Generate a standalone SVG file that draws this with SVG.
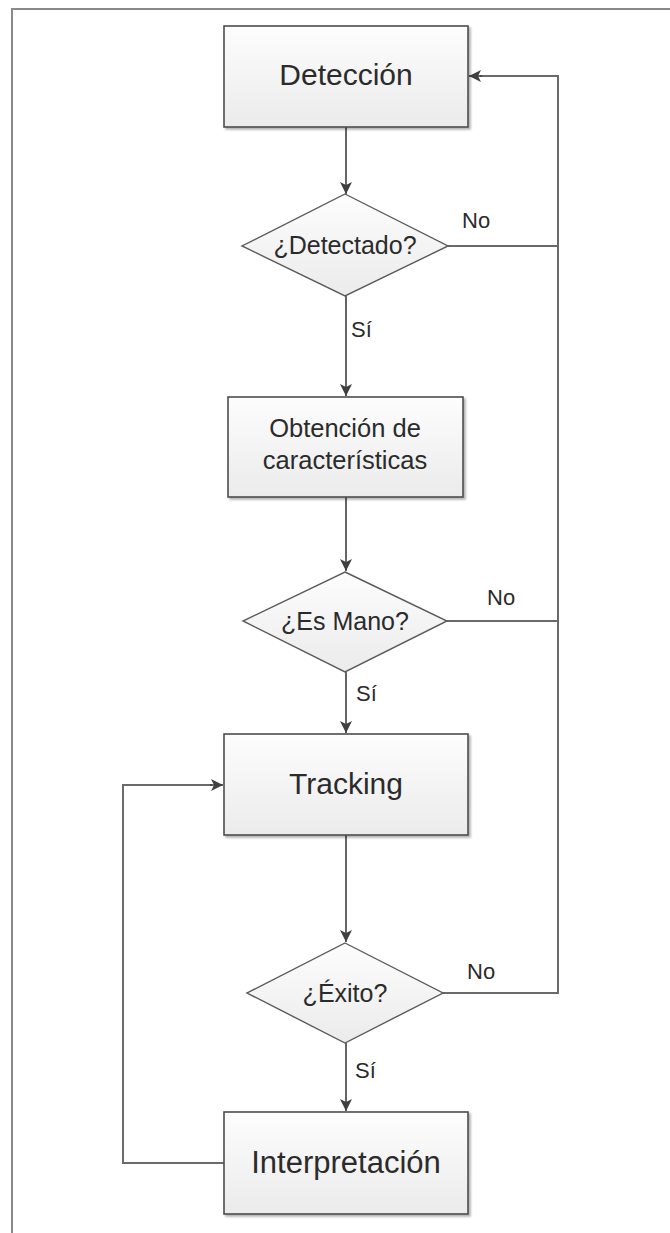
<svg xmlns="http://www.w3.org/2000/svg" width="670" height="1233" viewBox="0 0 670 1233">
  <style>
    .box { fill: url(#boxFill); stroke: #4d4d4d; stroke-width: 1.6; filter: url(#shadow); }
    .dec { fill: url(#boxFill); stroke: #5a5a5a; stroke-width: 1.4; }
    .lbl { font-family: "Liberation Sans", Arial, sans-serif; fill: #2b2b2b; text-anchor: middle; }
    .edge { font-family: "Liberation Sans", Arial, sans-serif; fill: #2b2b2b; font-size: 22px; }
    .flow { fill: none; stroke: #3f3f3f; stroke-width: 1.6; }
    .loop { fill: none; stroke: #6a6a6a; stroke-width: 2; }
  </style>
  <defs>
    <linearGradient id="boxFill" x1="0" y1="0" x2="0" y2="1">
      <stop offset="0" stop-color="#fdfdfd"/>
      <stop offset="1" stop-color="#ebebeb"/>
    </linearGradient>
    <filter id="shadow" x="-5%" y="-5%" width="115%" height="120%">
      <feDropShadow dx="2" dy="2" stdDeviation="1.2" flood-color="#000" flood-opacity="0.3"/>
    </filter>
    <marker id="arrow" markerUnits="userSpaceOnUse" markerWidth="12" markerHeight="12" viewBox="0 0 12 12" refX="12" refY="6" orient="auto">
      <path d="M0,0 L12,6 L0,12 L3,6 Z" fill="#3f3f3f"/>
    </marker>
  </defs>

  <!-- page frame -->
  <path d="M12,1233 V9 H670" fill="none" stroke="#8a8a8a" stroke-width="2"/>

  <!-- connectors -->
  <g id="connectors">
    <path class="flow" d="M346,127 V194" marker-end="url(#arrow)"/>
    <path class="flow" d="M346,296 V396" marker-end="url(#arrow)"/>
    <path class="flow" d="M346,497 V571" marker-end="url(#arrow)"/>
    <path class="flow" d="M346,672 V733" marker-end="url(#arrow)"/>
    <path class="flow" d="M346,835 V942" marker-end="url(#arrow)"/>
    <path class="flow" d="M346,1043 V1111" marker-end="url(#arrow)"/>
    <path class="loop" d="M448,246 H558"/>
    <path class="loop" d="M447,621 H558"/>
    <path class="loop" d="M443,993 H558 V76 H480"/>
    <path class="flow" d="M482,76 H469" marker-end="url(#arrow)"/>
    <path class="loop" d="M224,1163 H123 V785 H212"/>
    <path class="flow" d="M210,785 H223" marker-end="url(#arrow)"/>
    <text class="edge" x="462" y="228">No</text>
    <text class="edge" x="351" y="337">Sí</text>
    <text class="edge" x="487" y="605">No</text>
    <text class="edge" x="356" y="701">Sí</text>
    <text class="edge" x="467" y="979">No</text>
    <text class="edge" x="355" y="1078">Sí</text>
  </g>

  <g id="deteccion">
    <rect class="box" x="224" y="26" width="244" height="101"/>
    <text class="lbl" x="346" y="85" font-size="30">Detección</text>
  </g>

  <g id="detectado">
    <polygon class="dec" points="345,194 448,246 345,296 242,246"/>
    <text class="lbl" x="345" y="254" font-size="25">¿Detectado?</text>
  </g>

  <g id="obtencion">
    <rect class="box" x="228" y="397" width="235" height="100"/>
    <text class="lbl" x="345" y="437" font-size="25.5">Obtención de</text>
    <text class="lbl" x="345" y="469" font-size="25.5">características</text>
  </g>

  <g id="es-mano">
    <polygon class="dec" points="345,572 447,621 345,672 243,621"/>
    <text class="lbl" x="345" y="630" font-size="25">¿Es Mano?</text>
  </g>

  <g id="tracking">
    <rect class="box" x="224" y="734" width="244" height="101"/>
    <text class="lbl" x="346" y="794" font-size="30">Tracking</text>
  </g>

  <g id="exito">
    <polygon class="dec" points="345,943 443,993 345,1043 247,993"/>
    <text class="lbl" x="345" y="1002" font-size="25">¿Éxito?</text>
  </g>

  <g id="interpretacion">
    <rect class="box" x="224" y="1112" width="244" height="102"/>
    <text class="lbl" x="346" y="1173" font-size="31">Interpretación</text>
  </g>
</svg>
